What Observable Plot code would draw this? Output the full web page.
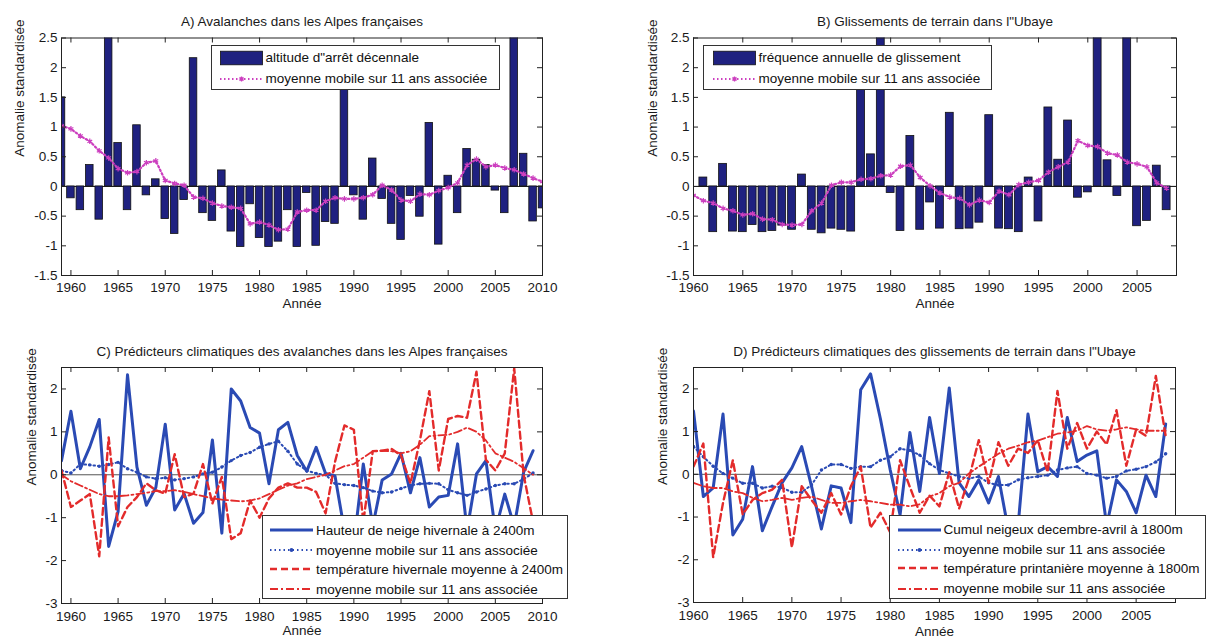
<!DOCTYPE html>
<html><head><meta charset="utf-8">
<script src="https://cdn.jsdelivr.net/npm/d3@7"></script>
<script src="https://cdn.jsdelivr.net/npm/@observablehq/plot@0.6"></script>
<style>
body{margin:0;background:#fff;}
#wrap{position:relative;width:1206px;height:639px;overflow:hidden;font-family:"Liberation Sans",Arial,sans-serif;}
.panel{position:absolute;}
.legend{position:absolute;background:#fff;border:1px solid #333;box-sizing:border-box;font-size:13.5px;color:#111;}
.row{position:absolute;height:20px;display:flex;align-items:center;white-space:nowrap;}
.row svg{flex:none;}
.row span{margin-left:3px;}
</style></head><body><div id="wrap"></div>
<script>
// ---------- data ----------
const yearsA = d3.range(1959, 2011);          // 1959..2010
const altitudeA = [1.5,-0.2,-0.4,0.36,-0.56,2.9,0.73,-0.4,1.03,-0.15,
  0.12,-0.55,-0.8,-0.23,2.16,-0.45,-0.58,0.27,-0.76,-1.02,
  -0.3,-0.87,-1.02,-0.93,-0.4,-1.02,-0.11,-1.0,-0.6,-0.63,
  1.8,-0.15,-0.56,0.47,-0.21,-0.63,-0.9,-0.16,-0.51,1.07,
  -0.98,0.18,-0.45,0.63,0.45,0.36,-0.07,-0.45,2.9,0.55,
  -0.59,-0.37];
const maA = [1.02,0.97,0.85,0.76,0.6,0.48,0.3,0.23,0.25,0.4,
  0.43,0.1,0.05,0.02,-0.18,-0.2,-0.28,-0.33,-0.35,-0.37,
  -0.63,-0.6,-0.65,-0.73,-0.72,-0.43,-0.4,-0.4,-0.25,-0.19,
  -0.21,-0.21,-0.19,-0.14,0.02,-0.06,-0.23,-0.25,-0.13,-0.14,
  -0.07,-0.02,0.06,0.36,0.46,0.33,0.36,0.31,0.28,0.21,
  0.14,0.08];

const yearsB = d3.range(1961, 2009);          // 1961..2008
const freqB = [0.15,-0.77,0.38,-0.76,-0.77,-0.65,-0.77,-0.75,-0.66,-0.73,
  0.2,-0.73,-0.79,-0.71,-0.73,-0.76,1.9,0.54,2.9,-0.11,
  -0.75,0.85,-0.73,-0.27,-0.71,1.24,-0.72,-0.71,-0.61,1.2,
  -0.71,-0.72,-0.77,0.15,-0.59,1.33,0.45,1.11,-0.19,-0.1,
  2.9,0.44,-0.16,2.9,-0.67,-0.58,0.35,-0.4];
const yearsBma = d3.range(1960, 2009);        // 1960..2008
const maB = [-0.15,-0.24,-0.28,-0.37,-0.41,-0.48,-0.46,-0.55,-0.56,-0.64,
  -0.65,-0.64,-0.41,-0.28,0.02,0.07,0.07,0.12,0.13,0.18,
  0.19,0.34,0.36,0.15,0.01,-0.11,-0.18,-0.2,-0.31,-0.23,
  -0.27,-0.08,-0.14,0.03,0.07,0.1,0.24,0.33,0.41,0.77,
  0.69,0.67,0.56,0.53,0.41,0.38,0.33,0.06,-0.03];

const yearsC = d3.range(1959, 2010);          // 1959..2009
const snowC = [0.33,1.48,0.14,0.65,1.29,-1.67,-0.86,2.33,0.18,-0.71,
  -0.3,1.18,-0.82,-0.44,-1.13,-0.88,0.81,-1.36,2.0,1.72,
  1.1,0.97,-0.21,1.05,1.22,0.45,0.08,0.64,0.03,-0.03,
  -1.3,-1.6,0.25,-1.2,-0.12,0.02,0.5,-0.42,0.4,-0.75,
  -0.52,-0.48,0.72,-1.3,0.02,0.33,-1.3,-0.45,-1.2,0.06,
  0.56];
const snowMaC = [0.1,0.04,0.25,0.23,0.2,0.24,0.29,0.14,0.06,-0.05,
  -0.09,-0.07,-0.12,-0.09,-0.05,0.02,0.06,0.18,0.33,0.45,
  0.52,0.64,0.72,0.78,0.55,0.25,0.1,0.03,0.0,-0.2,
  -0.23,-0.25,-0.3,-0.38,-0.42,-0.4,-0.32,-0.25,-0.21,-0.2,
  -0.21,-0.35,-0.42,-0.48,-0.4,-0.33,-0.25,-0.21,-0.21,-0.1,
  0.04];
const tempC = [0.1,-0.75,-0.6,-0.45,-1.9,0.87,-1.2,-0.75,-0.52,-0.2,
  -0.36,-0.44,0.48,-0.52,-0.44,0.25,-0.67,-0.05,-1.5,-1.36,
  -0.6,-1.0,-0.55,-0.3,-0.2,-0.3,-0.3,-0.4,-0.9,0.3,
  1.15,1.05,-1.1,0.55,0.56,0.6,0.45,-0.2,0.8,1.95,
  0.1,1.3,1.37,1.33,2.4,0.35,0.1,0.5,2.48,0.0,
  -1.1];
const tempMaC = [0.0,-0.15,-0.25,-0.35,-0.45,-0.5,-0.5,-0.48,-0.45,-0.42,
  -0.38,-0.38,-0.36,-0.4,-0.45,-0.5,-0.55,-0.58,-0.6,-0.62,
  -0.6,-0.55,-0.45,-0.35,-0.25,-0.2,-0.1,-0.05,0.0,0.1,
  0.2,0.25,0.4,0.55,0.56,0.55,0.5,0.55,0.7,0.9,
  0.92,0.93,1.0,1.1,1.0,0.8,0.5,0.4,0.3,0.15,
  0.0];

const yearsD = d3.range(1960, 2009);          // 1960..2008
const snowD = [1.48,-0.52,-0.32,1.41,-1.42,-1.05,0.18,-1.32,-0.75,-0.2,
  0.15,0.65,-0.28,-1.28,-0.27,-0.32,-1.13,1.98,2.35,1.3,
  0.1,-0.95,0.98,-0.4,1.33,0.02,2.02,-0.2,-0.52,-0.13,
  -0.67,-0.05,-1.3,-1.2,1.41,0.06,0.18,-0.05,1.33,0.3,
  0.45,0.55,-1.2,-0.13,-0.4,-0.9,-0.02,-0.52,1.18];
const snowMaD = [0.65,0.41,0.19,0.02,-0.09,-0.21,-0.21,-0.32,-0.28,-0.31,
  -0.42,-0.42,-0.25,0.1,0.23,0.23,0.14,0.18,0.18,0.33,
  0.41,0.6,0.56,0.45,0.25,0.1,0.02,-0.05,-0.1,-0.05,
  -0.2,-0.25,-0.25,-0.13,-0.08,-0.05,-0.02,0.1,0.15,0.18,
  0.02,-0.02,-0.09,-0.05,0.08,0.12,0.18,0.29,0.48];
const tempD = [0.18,0.72,-1.94,-0.67,0.33,-0.94,-0.6,-0.44,-0.36,-0.13,
  -1.71,-0.28,-0.6,-0.9,-0.44,-0.94,-0.28,0.18,-1.25,-0.9,
  -1.36,0.33,-0.3,-0.9,-0.5,-0.75,0.05,-0.8,-0.1,0.8,
  -0.2,0.75,0.2,0.6,0.5,0.8,0.05,1.95,0.6,1.2,
  0.6,1.0,0.7,1.5,0.2,1.05,0.9,2.3,0.9];
const tempMaD = [-0.2,-0.28,-0.32,-0.32,-0.4,-0.44,-0.55,-0.63,-0.6,-0.55,
  -0.6,-0.55,-0.52,-0.6,-0.67,-0.67,-0.63,-0.6,-0.63,-0.67,
  -0.71,-0.71,-0.75,-0.7,-0.52,-0.44,-0.28,-0.2,0.02,0.18,
  0.33,0.48,0.6,0.67,0.75,0.79,0.87,0.95,0.98,1.02,
  1.13,1.05,1.02,1.05,1.1,1.05,1.02,1.02,1.02];

const xTicksA = [1960,1965,1970,1975,1980,1985,1990,1995,2000,2005,2010];
const xTicksB = [1960,1965,1970,1975,1980,1985,1990,1995,2000,2005];
const yTicksAB = [-1.5,-1,-0.5,0,0.5,1,1.5,2,2.5];
const yTicksCD = [-3,-2,-1,0,1,2];

const titles = [
  "A) Avalanches dans les Alpes françaises",
  "B) Glissements de terrain dans l\"Ubaye",
  "C) Prédicteurs climatiques des avalanches dans les Alpes françaises",
  "D) Prédicteurs climatiques des glissements de terrain dans l\"Ubaye"
];
const xLabel = "Année";
const yLabel = "Anomalie standardisée";
const legendA = ["altitude d\"arrêt décennale", "moyenne mobile sur 11 ans associée"];
const legendB = ["fréquence annuelle de glissement", "moyenne mobile sur 11 ans associée"];
const legendC = ["Hauteur de neige hivernale à 2400m", "moyenne mobile sur 11 ans associée",
  "température hivernale moyenne à 2400m", "moyenne mobile sur 11 ans associée"];
const legendD = ["Cumul neigeux decembre-avril à 1800m", "moyenne mobile sur 11 ans associée",
  "température printanière moyenne à 1800m", "moyenne mobile sur 11 ans associée"];

// ---------- styles ----------
const NAVY = "#1f2180", PINK = "#cc3fbf", BLUE = "#2a4ab4", RED = "#e32b2b", INK = "#1a1a1a";
const zip = (xs, vs) => xs.map((x, i) => ({x, v: vs[i]}));

function panel(cfg) {
  const {left, top, width, height, mt, mr, mb, ml, xdomain, xticks, ydomain, yticks, title, ydx, marks} = cfg;
  const iw = width - ml - mr, ih = height - mt - mb;
  const svg = Plot.plot({
    width, height, marginTop: mt, marginRight: mr, marginBottom: mb, marginLeft: ml,
    style: {fontFamily: "'Liberation Sans', Arial, sans-serif", fontSize: "13.5px", color: INK, background: "transparent", overflow: "visible"},
    x: {domain: xdomain, ticks: xticks, tickFormat: d => String(d), tickSize: 0, tickPadding: cfg.xpad, label: null},
    y: {domain: ydomain, ticks: yticks, tickFormat: d => String(d), tickSize: 0, tickPadding: 4, label: null},
    marks: [
      ...marks,
      Plot.frame({stroke: "#222"}),
      Plot.tickX(xticks, {x: d => d, insetTop: ih - 5, stroke: "#222"}),
      Plot.tickX(xticks, {x: d => d, insetBottom: ih - 5, stroke: "#222"}),
      Plot.tickY(yticks, {y: d => d, insetRight: iw - 5, stroke: "#222"}),
      Plot.tickY(yticks, {y: d => d, insetLeft: iw - 5, stroke: "#222"}),
      Plot.text([title], {text: d => d, frameAnchor: "top", dy: -16, lineAnchor: "middle", fontSize: 13.5, fill: INK}),
      Plot.text([xLabel], {text: d => d, frameAnchor: "bottom", dy: cfg.xdy, lineAnchor: "middle", fontSize: 13.5, fill: INK}),
      Plot.text([yLabel], {text: d => d, frameAnchor: "left", dx: ydx, rotate: -90, lineAnchor: "middle", fontSize: 13.5, fill: INK})
    ]
  });
  svg.classList.add("panel");
  svg.style.left = left + "px";
  svg.style.top = top + "px";
  document.getElementById("wrap").appendChild(svg);
}

const barMarks = (data) => [
  Plot.ruleY([0], {stroke: "#111"}),
  Plot.rectY(data, {x1: d => d.x - 0.4, x2: d => d.x + 0.4, y: "v", fill: NAVY, stroke: "#111", strokeWidth: 0.8, clip: true})
];
const maMarks = (data) => [
  Plot.line(data, {x: "x", y: "v", stroke: PINK, strokeWidth: 2.2, strokeDasharray: "1.5,2.5", clip: true}),
  Plot.dot(data, {x: "x", y: "v", symbol: "asterisk", r: 2.6, stroke: PINK, strokeWidth: 1.2, clip: true})
];
const climMarks = (snow, snowMa, temp, tempMa) => [
  Plot.ruleY([0], {stroke: "#555"}),
  Plot.line(snow, {x: "x", y: "v", stroke: BLUE, strokeWidth: 3, clip: true}),
  Plot.line(snowMa, {x: "x", y: "v", stroke: BLUE, strokeWidth: 2, strokeDasharray: "1.5,3", clip: true}),
  Plot.dot(snowMa, {x: "x", y: "v", r: 1.7, fill: BLUE, clip: true}),
  Plot.line(temp, {x: "x", y: "v", stroke: RED, strokeWidth: 2.4, strokeDasharray: "7,4", clip: true}),
  Plot.line(tempMa, {x: "x", y: "v", stroke: RED, strokeWidth: 1.8, strokeDasharray: "8,3,2,3", clip: true})
];

panel({left: 0, top: 0, width: 603, height: 320, mt: 37.5, mr: 61, mb: 45, ml: 61,
  xdomain: [1959, 2010], xticks: xTicksA, ydomain: [-1.5, 2.5], yticks: yTicksAB,
  title: titles[0], ydx: -42, xdy: 28, xpad: 7,
  marks: [...barMarks(zip(yearsA, altitudeA)), ...maMarks(zip(yearsA, maA))]});

panel({left: 603, top: 0, width: 603, height: 320, mt: 37.5, mr: 30, mb: 45, ml: 90,
  xdomain: [1960, 2009], xticks: xTicksB, ydomain: [-1.5, 2.5], yticks: yTicksAB,
  title: titles[1], ydx: -41, xdy: 28, xpad: 7,
  marks: [...barMarks(zip(yearsB, freqB)), ...maMarks(zip(yearsBma, maB))]});

panel({left: 0, top: 319, width: 603, height: 320, mt: 48, mr: 61, mb: 36, ml: 61,
  xdomain: [1959, 2010], xticks: xTicksA, ydomain: [-3, 2.5], yticks: yTicksCD,
  title: titles[2], ydx: -30, xdy: 27, xpad: 8,
  marks: climMarks(zip(yearsC, snowC), zip(yearsC, snowMaC), zip(yearsC, tempC), zip(yearsC, tempMaC))});

panel({left: 603, top: 319, width: 603, height: 320, mt: 48, mr: 31, mb: 37, ml: 90,
  xdomain: [1960, 2009], xticks: xTicksB, ydomain: [-3, 2.5], yticks: yTicksCD,
  title: titles[3], ydx: -31, xdy: 29, xpad: 8,
  marks: climMarks(zip(yearsD, snowD), zip(yearsD, snowMaD), zip(yearsD, tempD), zip(yearsD, tempMaD))});

// ---------- legends ----------
function swatch(kind) {
  const w = 43, h = 20, m = 10;
  let s = `<svg width="${w}" height="${h}" viewBox="0 0 ${w} ${h}">`;
  if (kind === "bar") s += `<rect x="0.5" y="3.2" width="${w-1}" height="13.6" fill="${NAVY}" stroke="#111" stroke-width="0.8"/>`;
  if (kind === "pink") s += `<line x1="0" x2="${w}" y1="${m}" y2="${m}" stroke="${PINK}" stroke-width="2.2" stroke-dasharray="1.5,2.5"/><path d="M${w/2-2.6},${m}h5.2M${w/2},${m-2.6}v5.2M${w/2-1.9},${m-1.9}l3.8,3.8M${w/2-1.9},${m+1.9}l3.8,-3.8" stroke="${PINK}" stroke-width="1.2"/>`;
  if (kind === "blue") s += `<line x1="0" x2="${w}" y1="${m}" y2="${m}" stroke="${BLUE}" stroke-width="3"/>`;
  if (kind === "bluedot") s += `<line x1="0" x2="${w}" y1="${m}" y2="${m}" stroke="${BLUE}" stroke-width="2" stroke-dasharray="1.5,3"/><circle cx="${w/2}" cy="${m}" r="1.9" fill="${BLUE}"/>`;
  if (kind === "reddash") s += `<line x1="0" x2="${w}" y1="${m}" y2="${m}" stroke="${RED}" stroke-width="2.4" stroke-dasharray="7,4"/>`;
  if (kind === "reddashdot") s += `<line x1="0" x2="${w}" y1="${m}" y2="${m}" stroke="${RED}" stroke-width="1.8" stroke-dasharray="8,3,2,3"/>`;
  return s + "</svg>";
}
function legend(box, swLeft, rows) {
  const div = document.createElement("div");
  div.className = "legend";
  Object.assign(div.style, {left: box[0] + "px", top: box[1] + "px", width: box[2] + "px", height: box[3] + "px"});
  div.innerHTML = rows.map(([kind, label, cy]) =>
    `<div class="row" style="left:${swLeft}px;top:${cy - 10}px">${swatch(kind)}<span>${label}</span></div>`).join("");
  document.getElementById("wrap").appendChild(div);
}
legend([210.5, 45, 289, 45], 8, [["bar", legendA[0], 11.5], ["pink", legendA[1], 32.5]]);
legend([703, 45, 289, 45], 8.5, [["bar", legendB[0], 11.5], ["pink", legendB[1], 32.5]]);
legend([262, 515, 306, 84], 7, [["blue", legendC[0], 14], ["bluedot", legendC[1], 34], ["reddash", legendC[2], 53], ["reddashdot", legendC[3], 73]]);
legend([889, 515, 317, 84], 7.5, [["blue", legendD[0], 13.5], ["bluedot", legendD[1], 33.5], ["reddash", legendD[2], 52], ["reddashdot", legendD[3], 72.5]]);
</script>
</body></html>
